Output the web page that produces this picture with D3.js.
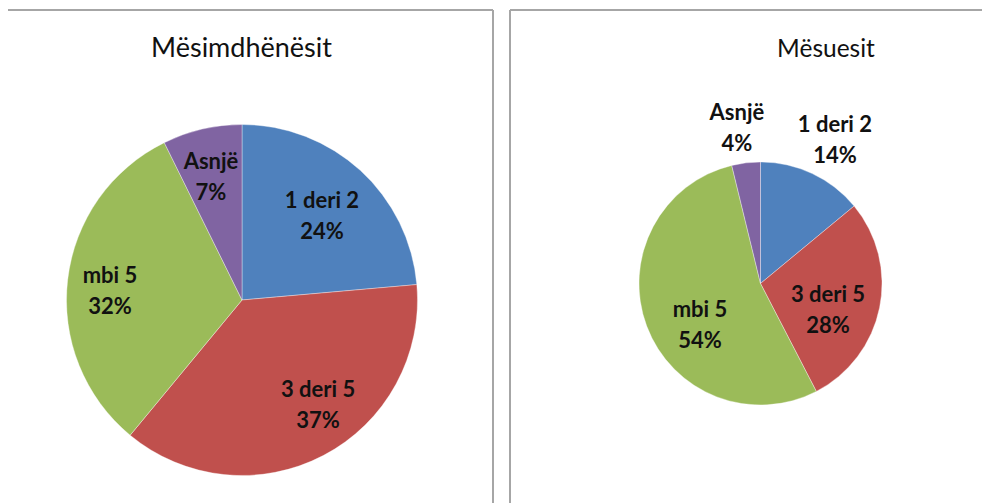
<!DOCTYPE html>
<html>
<head>
<meta charset="utf-8">
<script src="https://cdn.jsdelivr.net/npm/d3@7"></script>
<style>
  html, body { margin: 0; padding: 0; background: #fff; }
  svg { display: block; }
</style>
</head>
<body>
<svg id="chart" width="982" height="503"></svg>
<script>
// ---- data ----
const categories = ["1 deri 2", "3 deri 5", "mbi 5", "Asnjë"];
const titles = ["Mësimdhënësit", "Mësuesit"];
const valuesMesimdhenesit = [23.6, 37.4, 31.7, 7.3];
const valuesMesuesit = [14.0, 28.4, 53.8, 3.8];
const colors = ["#4F81BD", "#C0504D", "#9BBB59", "#8064A2"];

// ---- layout (positions only) ----
const panels = [
  { values: valuesMesimdhenesit, title: titles[0], cx: 242, cy: 300, r: 175.5,
    titleX: 241.5, titleY: 57, titleSize: 27,
    // [radius factor, angle nudge in degrees] per label
    labels: [[0.661, 1.1], [0.739, -8.2], [0.754, -2.8], [0.723, -1.0]] },
  { values: valuesMesuesit, title: titles[1], cx: 760.5, cy: 283.5, r: 121.5,
    titleX: 826, titleY: 57, titleSize: 24.5,
    labels: [[1.331, 2.2], [0.597, 9.9], [0.604, -13.9], [1.294, -1.8]] }
];

const svg = d3.select("#chart");

// panel borders
const border = "#a6a6a6";
svg.append("line").attr("x1", 8).attr("y1", 10).attr("x2", 493).attr("y2", 10)
  .attr("stroke", border).attr("stroke-width", 2);
svg.append("line").attr("x1", 493).attr("y1", 10).attr("x2", 493).attr("y2", 503)
  .attr("stroke", border).attr("stroke-width", 2);
svg.append("line").attr("x1", 510).attr("y1", 10).attr("x2", 982).attr("y2", 10)
  .attr("stroke", border).attr("stroke-width", 2);
svg.append("line").attr("x1", 510).attr("y1", 10).attr("x2", 510).attr("y2", 503)
  .attr("stroke", border).attr("stroke-width", 2);

const pie = d3.pie().sort(null).value(d => d);

panels.forEach(p => {
  svg.append("text")
    .attr("x", p.titleX).attr("y", p.titleY)
    .attr("text-anchor", "middle")
    .attr("font-family", "Lato, 'Open Sans', sans-serif")
    .attr("font-size", p.titleSize)
    .attr("fill", "#111")
    .text(p.title);

  const g = svg.append("g").attr("transform", `translate(${p.cx},${p.cy})`);
  const arc = d3.arc().innerRadius(0).outerRadius(p.r);
  const arcs = pie(p.values);

  g.selectAll("path.slice").data(arcs).enter().append("path")
    .attr("class", "slice")
    .attr("d", arc)
    .attr("fill", (d, i) => colors[i])
    .attr("stroke", "#fff")
    .attr("stroke-width", 0.6)
    .attr("stroke-opacity", 0.6);

  const total = d3.sum(p.values);
  arcs.forEach((d, i) => {
    const [kf, nudge] = p.labels[i];
    const a = (d.startAngle + d.endAngle) / 2 + nudge * Math.PI / 180;
    const rr = kf * p.r;
    const x = Math.sin(a) * rr;
    const y = -Math.cos(a) * rr;
    const t = g.append("text")
      .attr("text-anchor", "middle")
      .attr("font-family", "Lato, 'Open Sans', sans-serif")
      .attr("font-weight", "bold")
      .attr("font-size", 22)
      .attr("fill", "#111");
    t.append("tspan").attr("x", x).attr("y", y - 8).text(categories[i]);
    t.append("tspan").attr("x", x).attr("y", y + 23)
      .text(Math.round(d.data / total * 100) + "%");
  });
});
</script>
</body>
</html>
